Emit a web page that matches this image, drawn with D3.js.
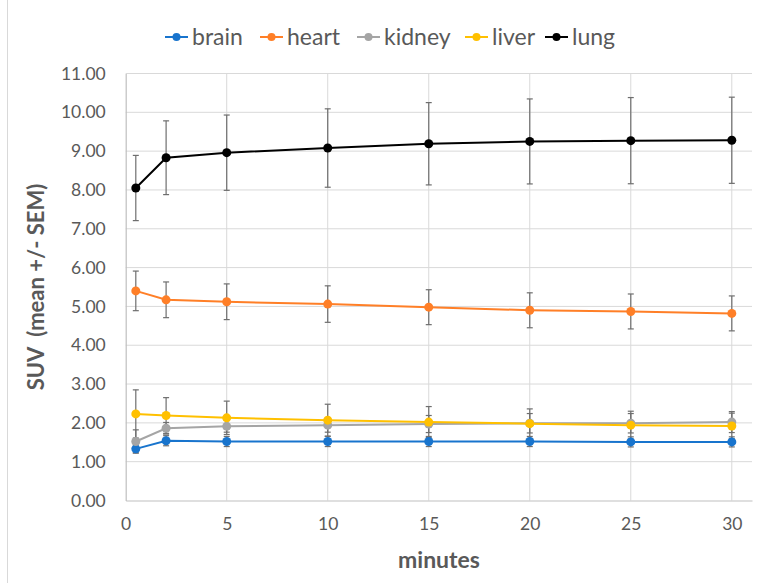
<!DOCTYPE html>
<html><head><meta charset="utf-8">
<script src="https://cdn.jsdelivr.net/npm/d3@7"></script>
<style>body{margin:0;background:#fff;} svg{display:block;font-family:Lato,"Open Sans",sans-serif;}</style>
</head><body>
<svg id="c" width="771" height="583"></svg>
<script>
const minutes = [0.5, 2, 5, 10, 15, 20, 25, 30];
const seriesNames = ["brain", "heart", "kidney", "liver", "lung"];
const brain = [1.33, 1.54, 1.52, 1.52, 1.52, 1.52, 1.51, 1.51];
const brainSEM = [0.10, 0.13, 0.13, 0.13, 0.13, 0.13, 0.13, 0.13];
const heart = [5.40, 5.17, 5.12, 5.06, 4.98, 4.90, 4.87, 4.82];
const heartSEM = [0.51, 0.46, 0.46, 0.47, 0.45, 0.45, 0.45, 0.45];
const kidney = [1.52, 1.86, 1.91, 1.94, 1.97, 1.99, 1.99, 2.02];
const kidneySEM = [0.30, 0.15, 0.15, 0.18, 0.22, 0.25, 0.25, 0.27];
const liver = [2.23, 2.19, 2.13, 2.07, 2.02, 1.98, 1.94, 1.92];
const liverSEM = [0.62, 0.46, 0.43, 0.41, 0.40, 0.38, 0.36, 0.33];
const lung = [8.05, 8.83, 8.96, 9.08, 9.19, 9.25, 9.27, 9.28];
const lungSEM = [0.84, 0.95, 0.97, 1.01, 1.06, 1.095, 1.11, 1.11];
const yTicks = [0,1,2,3,4,5,6,7,8,9,10,11];
const xTicks = [0,5,10,15,20,25,30];
const colors = ["#1874CD", "#FF7F27", "#A5A5A5", "#FFC000", "#000000"];

const values = [brain, heart, kidney, liver, lung];
const sems = [brainSEM, heartSEM, kidneySEM, liverSEM, lungSEM];

const svg = d3.select("#c");
const x = d3.scaleLinear().domain([0, 31]).range([125.7, 752]);
const y = d3.scaleLinear().domain([0, 11]).range([500.5, 73.5]);

// chart area border
svg.append("line").attr("x1",7.5).attr("x2",7.5).attr("y1",0).attr("y2",583).attr("stroke","#d9d9d9");

// gridlines
svg.append("g").selectAll("line").data(yTicks.slice(1)).join("line")
  .attr("x1", x(0)).attr("x2", x(31)).attr("y1", d=>y(d)).attr("y2", d=>y(d))
  .attr("stroke","#d9d9d9").attr("stroke-width",1);
svg.append("g").selectAll("line").data(xTicks.slice(1)).join("line")
  .attr("x1", d=>x(d)).attr("x2", d=>x(d)).attr("y1", y(0)).attr("y2", y(11))
  .attr("stroke","#d9d9d9").attr("stroke-width",1);

// axes
const yAxis = svg.append("g").attr("transform",`translate(${x(0)},0)`)
  .call(d3.axisLeft(y).tickValues(yTicks).tickFormat(d3.format(".2f")).tickSize(0).tickPadding(20));
const xAxis = svg.append("g").attr("transform",`translate(0,${y(0)})`)
  .call(d3.axisBottom(x).tickValues(xTicks).tickSize(0).tickPadding(17));
[yAxis, xAxis].forEach(a=>{
  a.select(".domain").attr("stroke","#bfbfbf").attr("stroke-width",1.2);
  a.selectAll("text").attr("fill","#595959").style("font-size","17.5px").style("font-family","Lato, sans-serif");
});

// error bars
const eb = svg.append("g");
values.forEach((vals, si) => {
  const g = eb.append("g");
  minutes.forEach((m, i) => {
    const lo = y(vals[i] - sems[si][i]), hi = y(vals[i] + sems[si][i]), cx = x(m);
    g.append("line").attr("x1",cx).attr("x2",cx).attr("y1",lo).attr("y2",hi).attr("stroke","#6e6e6e").attr("stroke-width",1.2);
    g.append("line").attr("x1",cx-3).attr("x2",cx+3).attr("y1",lo).attr("y2",lo).attr("stroke","#6e6e6e").attr("stroke-width",1.2);
    g.append("line").attr("x1",cx-3).attr("x2",cx+3).attr("y1",hi).attr("y2",hi).attr("stroke","#6e6e6e").attr("stroke-width",1.2);
  });
});

// lines and markers
const line = d3.line().x((d,i)=>x(minutes[i])).y(d=>y(d));
values.forEach((vals, si) => {
  svg.append("path").attr("d", line(vals)).attr("fill","none").attr("stroke",colors[si]).attr("stroke-width",2);
  svg.append("g").selectAll("circle").data(vals).join("circle")
    .attr("cx",(d,i)=>x(minutes[i])).attr("cy",d=>y(d)).attr("r",4.5).attr("fill",colors[si]);
});

// legend
const legX = [165, 260, 357, 465, 545];
const leg = svg.append("g");
seriesNames.forEach((n, i) => {
  const g = leg.append("g").attr("transform",`translate(${legX[i]},37)`);
  g.append("line").attr("x1",0).attr("x2",23).attr("y1",0).attr("y2",0).attr("stroke",colors[i]).attr("stroke-width",2);
  g.append("circle").attr("cx",11.5).attr("cy",0).attr("r",4).attr("fill",colors[i]);
  g.append("text").attr("x",27).attr("y",8).text(n).attr("fill","#595959")
    .style("font-size","23px");
});

// axis titles
svg.append("text").attr("transform",`translate(44,${(y(0)+y(11))/2}) rotate(-90)`)
  .attr("text-anchor","middle").attr("fill","#595959").style("font-size","22px").style("font-weight","bold")
  .style("white-space","pre").text("SUV  (mean +/- SEM)");
svg.append("text").attr("x",439).attr("y",568).attr("text-anchor","middle")
  .attr("fill","#595959").style("font-size","23px").style("font-weight","bold").text("minutes");
</script>
</body></html>
